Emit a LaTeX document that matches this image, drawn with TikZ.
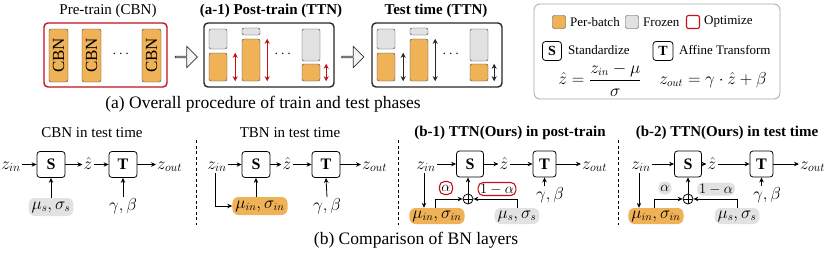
\documentclass[tikz,border=0pt]{standalone}
\usepackage{amsmath}
\usepackage{fontspec}
\setmainfont{Liberation Serif}
\usetikzlibrary{arrows.meta,positioning,shapes.arrows}

\definecolor{perbatch}{HTML}{F0B257}
\definecolor{frozen}{HTML}{E2E2E2}
\definecolor{optred}{HTML}{C41018}
\definecolor{edgegray}{HTML}{3C3C3C}

\begin{document}
\begin{tikzpicture}[x=1pt,y=-1pt,font=\fontsize{15}{18}\selectfont]
\tikzset{
  stagebox/.style={draw=black!85,line width=1.4pt,rounded corners=4pt,minimum width=130pt,minimum height=64pt},
  batchblk/.style={fill=perbatch,draw=edgegray,rounded corners=2pt,inner sep=0pt},
  frozenblk/.style={fill=frozen,draw=edgegray,rounded corners=2pt,inner sep=0pt},
  spanarrow/.style={{Stealth[length=5pt,width=5pt]}-{Stealth[length=5pt,width=5pt]},line width=1.3pt},
  hollow/.style={single arrow,draw=black!80,fill=black!4,line width=0.7pt,minimum height=22pt,minimum width=21pt,single arrow head extend=5pt,inner sep=0pt},
  opbox/.style={draw,line width=0.8pt,rounded corners=3pt,minimum height=26pt,inner sep=0pt,font=\bfseries\fontsize{16}{18}\selectfont},
  mathnode/.style={inner sep=1pt,font=\fontsize{16}{18}\selectfont},
  znode/.style={inner sep=1pt,font=\fontsize{17}{18}\selectfont},
  statpill/.style={rounded corners=6pt,inner xsep=3pt,inner ysep=1pt,minimum height=18pt,font=\fontsize{16}{18}\selectfont},
  coefpill/.style={rounded corners=5pt,inner xsep=2pt,inner ysep=0pt,minimum height=13pt,line width=1.1pt,font=\fontsize{15}{17}\selectfont},
  conn/.style={-{Stealth[length=5pt,width=4.5pt]},line width=0.8pt},
  sepline/.style={line width=0.7pt,dash pattern=on 3pt off 2.5pt},
  bold/.style={font=\bfseries\fontsize{15}{18}\selectfont},
  caption/.style={font=\fontsize{17.5}{20}\selectfont},
  legendtext/.style={anchor=west,inner sep=0pt,font=\fontsize{13}{15}\selectfont},
  keysq/.style={rounded corners=2pt,minimum size=13pt,inner sep=0pt}
}
\useasboundingbox (0,0) rectangle (831,257);

% (a) stages
\node (n_pretitle) at (108,11) {Pre-train (CBN)};
\node[bold] (n_posttitle) at (271,11) {(a-1) Post-train (TTN)};
\node[bold] (n_testtitle) at (436,11) {Test time (TTN)};

\node[stagebox,draw=optred,minimum width=123pt] (n_pre) at (105.5,55) {};
\foreach \x [count=\i] in {58.5,91.5,151.5}
  \node[batchblk,minimum width=19pt,minimum height=53pt,font=\fontsize{17}{18}\selectfont] (n_cbn\i) at (\x,55.5) {\rotatebox{90}{CBN}};
\node (n_predots) at (122,54) {$\cdots$};

\node[hollow] (n_go1) at (186,57) {};

\node[stagebox] (n_post) at (269,55) {};
\node[frozenblk,minimum width=18pt,minimum height=20pt] (n_pf1) at (218,39) {};
\node[batchblk,minimum width=18pt,minimum height=28pt] (n_pb1) at (218,67) {};
\node[frozenblk,minimum width=18pt,minimum height=7pt] (n_pf2) at (251,31.5) {};
\node[batchblk,minimum width=18pt,minimum height=42pt] (n_pb2) at (251,60) {};
\node[frozenblk,minimum width=18pt,minimum height=32pt] (n_pf3) at (311,45) {};
\node[batchblk,minimum width=18pt,minimum height=17pt] (n_pb3) at (311,72.5) {};
\node (n_postdots) at (284,54) {$\cdots$};
\draw[spanarrow,optred] ([xshift=8pt]n_pb1.north east) -- ([xshift=8pt]n_pb1.south east);
\draw[spanarrow,optred] ([xshift=7pt]n_pb2.north east) -- ([xshift=7pt]n_pb2.south east);
\draw[spanarrow,optred] ([xshift=6pt]n_pb3.north east) -- ([xshift=6pt]n_pb3.south east);

\node[hollow] (n_go2) at (352.5,57) {};

\node[stagebox] (n_test) at (437,55) {};
\node[frozenblk,minimum width=18pt,minimum height=20pt] (n_tf1) at (386,39) {};
\node[batchblk,minimum width=18pt,minimum height=28pt] (n_tb1) at (386,67) {};
\node[frozenblk,minimum width=18pt,minimum height=7pt] (n_tf2) at (419,31.5) {};
\node[batchblk,minimum width=18pt,minimum height=42pt] (n_tb2) at (419,60) {};
\node[frozenblk,minimum width=18pt,minimum height=32pt] (n_tf3) at (479,45) {};
\node[batchblk,minimum width=18pt,minimum height=17pt] (n_tb3) at (479,72.5) {};
\node (n_testdots) at (452,54) {$\cdots$};
\draw[spanarrow,black!85] ([xshift=8pt]n_tb1.north east) -- ([xshift=8pt]n_tb1.south east);
\draw[spanarrow,black!85] ([xshift=7pt]n_tb2.north east) -- ([xshift=7pt]n_tb2.south east);
\draw[spanarrow,black!85] ([xshift=6pt]n_tb3.north east) -- ([xshift=6pt]n_tb3.south east);

\node[caption] (n_capa) at (263,104) {(a) Overall procedure of train and test phases};

% legend
\node[draw=black!35,line width=0.8pt,rounded corners=6pt,minimum width=246pt,minimum height=95pt] (n_legend) at (657,51.5) {};
\node[keysq,fill=perbatch,draw=edgegray] (n_keyb) at (559,22) {};
\node[legendtext] at (570,22) {Per-batch};
\node[keysq,fill=frozen,draw=edgegray] (n_keyf) at (632,22) {};
\node[legendtext] at (643,22) {Frozen};
\node[keysq,draw=optred,line width=1.1pt] (n_keyo) at (693,22) {};
\node[legendtext] at (704,22) {Optimize};
\node[opbox,minimum width=19pt,minimum height=19pt,font=\bfseries\fontsize{14}{16}\selectfont] (n_keys) at (552,51) {S};
\node[legendtext] at (568,50) {Standardize};
\node[opbox,minimum width=20pt,minimum height=19pt,font=\bfseries\fontsize{14}{16}\selectfont] (n_keyt) at (663,51) {T};
\node[legendtext] at (679,50) {Affine Transform};
\node[mathnode,inner sep=0pt] (n_eqs) at (600,80) {$\hat{z}=\dfrac{z_{in}-\mu}{\sigma}$};
\node[mathnode,inner sep=0pt] (n_eqt) at (713,80) {$z_{out}=\gamma\cdot\hat{z}+\beta$};

% (b) CBN
\node (n_cbntitle) at (92,133) {CBN in test time};
\node[znode,anchor=base] (n_zin1) at (11,169) {$z_{in}$};
\node[opbox,minimum width=28pt] (n_s1) at (51,164.5) {S};
\node[znode] (n_zh1) at (88,163) {$\hat{z}$};
\node[opbox,minimum width=28pt] (n_t1) at (123,164.5) {T};
\node[znode,anchor=base west] (n_zout1) at (156,169) {$z_{out}$};
\node[statpill,fill=frozen] (n_ms1) at (51,207) {$\mu_s,\sigma_s$};
\node[mathnode] (n_gb1) at (123,206) {$\gamma,\beta$};
\draw[conn] (n_zin1.east |- n_s1.west) -- (n_s1.west);
\draw[conn] (n_s1.east) -- (n_zh1.west |- n_s1.east);
\draw[conn] (n_zh1.east |- n_t1.west) -- (n_t1.west);
\draw[conn] (n_t1.east) -- (n_zout1.west |- n_t1.east);
\draw[conn] (n_ms1.north) -- (n_s1.south);
\draw[conn] (n_gb1.north) -- (n_t1.south);

\draw[sepline] (196,140) -- (196,225);

% (b) TBN
\node (n_tbntitle) at (290,133) {TBN in test time};
\node[znode,anchor=base] (n_zin2) at (217,169) {$z_{in}$};
\node[opbox,minimum width=28pt] (n_s2) at (256,164.5) {S};
\node[znode] (n_zh2) at (287,163) {$\hat{z}$};
\node[opbox,minimum width=28pt] (n_t2) at (326,164.5) {T};
\node[znode,anchor=base west] (n_zout2) at (361,169) {$z_{out}$};
\node[statpill,fill=perbatch] (n_mi2) at (260,206) {$\mu_{in},\sigma_{in}$};
\node[mathnode] (n_gb2) at (327,206) {$\gamma,\beta$};
\draw[conn] (n_zin2.east |- n_s2.west) -- (n_s2.west);
\draw[conn] (n_s2.east) -- (n_zh2.west |- n_s2.east);
\draw[conn] (n_zh2.east |- n_t2.west) -- (n_t2.west);
\draw[conn] (n_t2.east) -- (n_zout2.west |- n_t2.east);
\draw[conn] ([xshift=-2pt]n_zin2.south) |- (n_mi2.west);
\draw[conn] (n_s2 |- n_mi2.north) -- (n_s2.south);
\draw[conn] (n_gb2.north) -- (n_t2.south);

\draw[sepline] (398,140) -- (398,225);

% (b-1) TTN post-train
\node[bold] (n_ttn1title) at (510,133) {(b-1) TTN(Ours) in post-train};
\node[znode,anchor=base] (n_zin3) at (426,169) {$z_{in}$};
\node[opbox,minimum width=27pt] (n_s3) at (470,164) {S};
\node[znode] (n_zh3) at (504,163) {$\hat{z}$};
\node[opbox,minimum width=23pt] (n_t3) at (544.5,164) {T};
\node[znode,anchor=base west] (n_zout3) at (581,169) {$z_{out}$};
\node[coefpill,draw=optred] (n_al3) at (446,188) {$\alpha$};
\node[coefpill,draw=optred] (n_oal3) at (497,189) {$1-\alpha$};
\node[circle,draw,line width=0.8pt,minimum size=10pt,inner sep=0pt,
  path picture={\draw (path picture bounding box.north) -- (path picture bounding box.south)
  (path picture bounding box.west) -- (path picture bounding box.east);}] (n_add3) at (468,199) {};
\node[statpill,fill=perbatch,minimum height=16pt] (n_mi3) at (437,216) {$\mu_{in},\sigma_{in}$};
\node[statpill,fill=frozen,minimum height=16pt] (n_ms3) at (517,216) {$\mu_s,\sigma_s$};
\node[mathnode] (n_gb3) at (550,195) {$\gamma,\beta$};
\draw[conn] (n_zin3.east |- n_s3.west) -- (n_s3.west);
\draw[conn] (n_s3.east) -- (n_zh3.west |- n_s3.east);
\draw[conn] (n_zh3.east |- n_t3.west) -- (n_t3.west);
\draw[conn] (n_t3.east) -- (n_zout3.west |- n_t3.east);
\draw[conn] ([xshift=-2pt]n_zin3.south) -- ([xshift=-2pt]n_zin3.south |- n_mi3.north);
\draw[conn] ([xshift=-2pt]n_mi3.north) |- (n_add3.west);
\draw[conn] (n_ms3.north) |- (n_add3.east);
\draw[conn] (n_add3.north) -- (n_add3 |- n_s3.south);
\draw[conn] (n_t3 |- n_gb3.north) -- (n_t3.south);

\draw[sepline] (618,140) -- (618,225);

% (b-2) TTN test time
\node[bold] (n_ttn2title) at (727,133) {(b-2) TTN(Ours) in test time};
\node[znode,anchor=base] (n_zin4) at (641,169) {$z_{in}$};
\node[opbox,minimum width=27pt] (n_s4) at (688,164) {S};
\node[znode] (n_zh4) at (712,163) {$\hat{z}$};
\node[opbox,minimum width=23pt] (n_t4) at (761.5,164) {T};
\node[znode,anchor=base west] (n_zout4) at (799,169) {$z_{out}$};
\node[coefpill,fill=frozen] (n_al4) at (665,188) {$\alpha$};
\node[coefpill,fill=frozen] (n_oal4) at (716,189) {$1-\alpha$};
\node[circle,draw,line width=0.8pt,minimum size=10pt,inner sep=0pt,
  path picture={\draw (path picture bounding box.north) -- (path picture bounding box.south)
  (path picture bounding box.west) -- (path picture bounding box.east);}] (n_add4) at (688,199) {};
\node[statpill,fill=perbatch,minimum height=16pt] (n_mi4) at (656,216) {$\mu_{in},\sigma_{in}$};
\node[statpill,fill=frozen,minimum height=16pt] (n_ms4) at (737,216) {$\mu_s,\sigma_s$};
\node[mathnode] (n_gb4) at (767,195) {$\gamma,\beta$};
\draw[conn] (n_zin4.east |- n_s4.west) -- (n_s4.west);
\draw[conn] (n_s4.east) -- (n_zh4.west |- n_s4.east);
\draw[conn] (n_zh4.east |- n_t4.west) -- (n_t4.west);
\draw[conn] (n_t4.east) -- (n_zout4.west |- n_t4.east);
\draw[conn] ([xshift=-2pt]n_zin4.south) -- ([xshift=-2pt]n_zin4.south |- n_mi4.north);
\draw[conn] ([xshift=-2pt]n_mi4.north) |- (n_add4.west);
\draw[conn] (n_ms4.north) |- (n_add4.east);
\draw[conn] (n_add4.north) -- (n_add4 |- n_s4.south);
\draw[conn] (n_t4 |- n_gb4.north) -- (n_t4.south);

\node[caption] (n_capb) at (416,240) {(b) Comparison of BN layers};
\end{tikzpicture}
\end{document}
